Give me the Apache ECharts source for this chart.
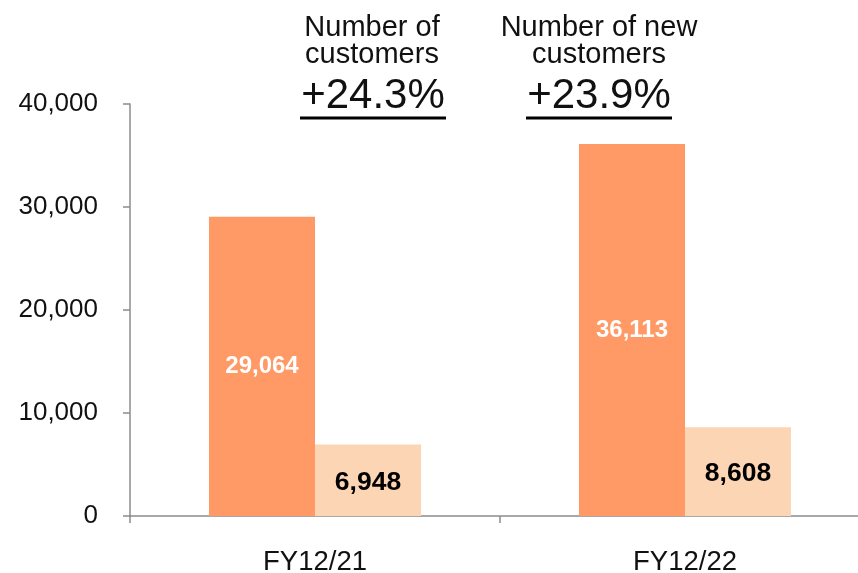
<!DOCTYPE html>
<html>
<head>
<meta charset="utf-8">
<script src="https://cdn.jsdelivr.net/npm/echarts@6/dist/echarts.min.js"></script>
<style>
  html, body { margin: 0; padding: 0; background: #fff; }
  #chart { width: 858px; height: 573px; }
</style>
</head>
<body>
<div id="chart"></div>
<script>
// data
var categories = ['FY12/21', 'FY12/22'];
var customers = [29064, 36113];
var newCustomers = [6948, 8608];
var headTitles = ['Number of\ncustomers', 'Number of new\ncustomers'];

var FONT = '"Liberation Sans", Arial, sans-serif';

function growth(arr) {
  return '+' + ((arr[1] / arr[0] - 1) * 100).toFixed(1) + '%';
}
function fmt(v) {
  return v.toLocaleString('en-US');
}

var myChart = echarts.init(document.getElementById('chart'));

var option = {
  animation: false,
  backgroundColor: '#fff',
  grid: {
    left: 130,
    right: -12,
    top: 104,
    bottom: 57,
    outerBoundsMode: 'none'
  },
  xAxis: {
    type: 'category',
    data: categories,
    axisLine: { lineStyle: { color: '#8c8c8c', width: 1.5 } },
    axisTick: { show: true, length: 7, lineStyle: { color: '#8c8c8c', width: 1.5 } },
    axisLabel: { color: '#111', fontSize: 27.5, fontFamily: FONT, margin: 32 }
  },
  yAxis: {
    type: 'value',
    min: 0,
    max: 40000,
    interval: 10000,
    splitLine: { show: false },
    axisLine: { show: true, lineStyle: { color: '#8c8c8c', width: 1.5 } },
    axisTick: { show: true, length: 7, lineStyle: { color: '#8c8c8c', width: 1.5 } },
    axisLabel: {
      color: '#111', fontSize: 26, fontFamily: FONT, margin: 32,
      formatter: function (v) { return fmt(v); }
    }
  },
  series: [
    {
      name: 'Number of customers',
      type: 'bar',
      data: customers,
      barWidth: 106,
      barGap: '0%',
      itemStyle: { color: '#FF9966' },
      label: {
        show: true, position: 'inside', color: '#fff', fontWeight: 'bold',
        fontSize: 24, fontFamily: FONT,
        formatter: function (p) { return fmt(p.value); }
      }
    },
    {
      name: 'Number of new customers',
      type: 'bar',
      data: newCustomers,
      barWidth: 106,
      barGap: '0%',
      itemStyle: { color: '#FCD5B5' },
      label: {
        show: true, position: 'inside', offset: [0, 2], color: '#000', fontWeight: 'bold',
        fontSize: 26.5, fontFamily: FONT,
        formatter: function (p) { return fmt(p.value); }
      }
    }
  ],
  graphic: [
    {
      type: 'text', x: 372, y: 41,
      style: { text: headTitles[0], fontSize: 29, lineHeight: 27, fontFamily: FONT, fill: '#111',
        align: 'center', verticalAlign: 'middle' }
    },
    {
      type: 'text', x: 599, y: 41,
      style: { text: headTitles[1], fontSize: 29, lineHeight: 27, fontFamily: FONT, fill: '#111',
        align: 'center', verticalAlign: 'middle' }
    },
    {
      type: 'text', x: 373, y: 96,
      style: { text: growth(customers), fontSize: 42, fontFamily: FONT, fill: '#111',
        align: 'center', verticalAlign: 'middle' }
    },
    {
      type: 'text', x: 599, y: 96,
      style: { text: growth(newCustomers), fontSize: 42, fontFamily: FONT, fill: '#111',
        align: 'center', verticalAlign: 'middle' }
    },
    {
      type: 'line', shape: { x1: 300, y1: 118, x2: 446, y2: 118 },
      style: { stroke: '#000', lineWidth: 3 }
    },
    {
      type: 'line', shape: { x1: 526, y1: 118, x2: 672, y2: 118 },
      style: { stroke: '#000', lineWidth: 3 }
    }
  ]
};

myChart.setOption(option);
</script>
</body>
</html>
